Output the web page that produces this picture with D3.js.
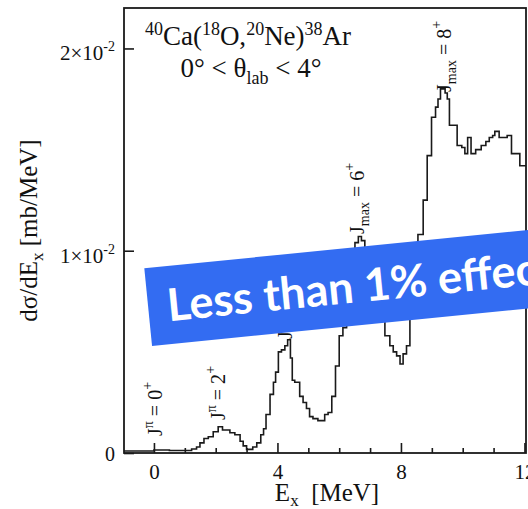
<!DOCTYPE html>
<html>
<head>
<meta charset="utf-8">
<script src="https://cdn.jsdelivr.net/npm/d3@7"></script>
<style>
  body { margin: 0; background: #fff; }
  svg { display: block; }
  text { font-family: "Liberation Serif", "Times New Roman", serif; fill: #111; }
  text.banner { font-family: Lato, "Open Sans", sans-serif; font-weight: bold; fill: #fff; }
</style>
</head>
<body>
<svg id="chart" width="528" height="509"></svg>
<script>
// bin edges [MeV] and d(sigma)/dEx [mb/MeV]
const binEdges = [
  -0.97, -0.5, 0.0, 0.5, 1.0, 1.22, 1.38, 1.49, 1.62, 1.76, 1.92, 2.08, 2.22,
  2.46, 2.62, 2.79, 2.89, 3.0, 3.2, 3.33, 3.46, 3.55, 3.63, 3.76, 3.87, 3.94,
  4.03, 4.13, 4.24, 4.33, 4.42, 4.48, 4.56, 4.72, 4.83, 4.94, 5.04, 5.15, 5.31,
  5.53, 5.64, 5.76, 5.88, 6.0, 6.12, 6.24, 6.34, 6.43, 6.51, 6.62, 6.72, 6.83,
  6.94, 7.05, 7.16, 7.27, 7.38, 7.48, 7.64, 7.75, 7.86, 7.97, 8.07, 8.18, 8.29,
  8.43, 8.55, 8.72, 8.85, 8.99, 9.12, 9.2, 9.28, 9.43, 9.5, 9.57, 9.82, 9.97,
  10.07, 10.16, 10.27, 10.42, 10.6, 10.75, 10.86, 10.97, 11.04, 11.18, 11.44,
  11.58, 11.85, 12.1
];
const dsig = [
  0.0001, 0.0001, 0.00015, 0.00012, 0.00012, 0.0002, 0.0003, 0.0005, 0.00072,
  0.0008, 0.00105, 0.0013, 0.00114, 0.001, 0.0009, 0.00058, 0.00035, 0.00018,
  0.0003, 0.0005, 0.0009, 0.0012, 0.0019, 0.0029, 0.0035, 0.004, 0.005, 0.0051,
  0.0053, 0.0056, 0.0047, 0.0036, 0.0035, 0.0028, 0.0025, 0.0022, 0.0018,
  0.0017, 0.0016, 0.0019, 0.002, 0.0028, 0.0043, 0.0058, 0.0062, 0.0078,
  0.0091, 0.0098, 0.0104, 0.0107, 0.0105, 0.0099, 0.0094, 0.0087, 0.008,
  0.0072, 0.0066, 0.0058, 0.0053, 0.005, 0.0048, 0.0044, 0.0049, 0.0053,
  0.0074, 0.0094, 0.0108, 0.0125, 0.0147, 0.0166, 0.0171, 0.0175, 0.018,
  0.0178, 0.0175, 0.0162, 0.0152, 0.0151, 0.0148, 0.0156, 0.0148, 0.015,
  0.0152, 0.0154, 0.0156, 0.0157, 0.0159, 0.0156, 0.0157, 0.0148, 0.0142
];

const xMajorTicks = [0, 4, 8, 12];
const xMinorTicks = [1, 2, 3, 5, 6, 7, 9, 10, 11];
const yTicks = [0, 0.01, 0.02];
const yTickMantissa = ["0", "1", "2"];

// state annotations: energy / height of the label foot, and the spin text
const stateE = [0.26, 2.3, 4.47, 6.8, 9.62];
const stateY = [0.00084, 0.00163, 0.00564, 0.01083, 0.01785];
const stateSub = ["", "", "max", "max", "max"];
const stateSup = ["\u03c0", "\u03c0", "", "", ""];
const stateSpin = ["0", "2", "4", "6", "8"];

const bannerText = "Less than 1% effect";

const width = 528;
const height = 509;
const margin = { top: 8, right: 2, bottom: 56, left: 124 };

const svg = d3.select("#chart");

const x = d3
  .scaleLinear()
  .domain([-0.97, 12.05])
  .range([margin.left, width - margin.right]);
const y = d3
  .scaleLinear()
  .domain([0, 0.022])
  .range([height - margin.bottom, margin.top]);

// append a run of text pieces, some raised or lowered
function richText(textSel, parts) {
  let shift = 0;
  parts.forEach((p) => {
    const s = p.shift || 0;
    textSel
      .append("tspan")
      .attr("dy", s - shift)
      .attr("font-size", p.size)
      .text(p.t);
    shift = s;
  });
}

svg
  .append("clipPath")
  .attr("id", "plot-clip")
  .append("rect")
  .attr("x", x.range()[0])
  .attr("y", y.range()[1])
  .attr("width", x.range()[1] - x.range()[0])
  .attr("height", y.range()[0] - y.range()[1]);

// histogram as a step line
const steps = [];
dsig.forEach((v, i) => {
  steps.push([binEdges[i], v]);
  steps.push([binEdges[i + 1], v]);
});

svg
  .append("path")
  .datum(steps)
  .attr("clip-path", "url(#plot-clip)")
  .attr("fill", "none")
  .attr("stroke", "#1a1a1a")
  .attr("stroke-width", 1.6)
  .attr("d", d3.line().x((d) => x(d[0])).y((d) => y(d[1])));

// axes, ticks pointing into the frame
const xAxisG = svg
  .append("g")
  .attr("transform", `translate(0, ${y(0)})`)
  .call(
    d3.axisBottom(x).tickValues(xMajorTicks).tickSize(-10).tickPadding(11).tickFormat(d3.format("d"))
  );
svg
  .append("g")
  .attr("transform", `translate(0, ${y(0)})`)
  .call(d3.axisBottom(x).tickValues(xMinorTicks).tickSize(-5).tickFormat(""));

svg
  .append("g")
  .attr("transform", `translate(${x.range()[0]}, 0)`)
  .call(d3.axisLeft(y).tickValues(yTicks).tickSize(-10).tickFormat(""));

svg.selectAll(".domain").remove();
svg.selectAll(".tick line").attr("stroke", "#1a1a1a").attr("stroke-width", 1.6);
xAxisG.selectAll(".tick text").attr("font-size", 21).style("fill", "#111");

yTicks.forEach((v, i) => {
  const t = svg
    .append("text")
    .attr("x", 115)
    .attr("y", y(v) + (v === 0 ? 8 : 12))
    .attr("text-anchor", "end")
    .attr("font-size", 20);
  if (v === 0) {
    t.text(yTickMantissa[i]);
  } else {
    richText(t, [
      { t: yTickMantissa[i] + "\u00d710", size: 21 },
      { t: "-2", size: 14, shift: -9 },
    ]);
  }
});

// frame
svg
  .append("rect")
  .attr("x", x.range()[0])
  .attr("y", y.range()[1])
  .attr("width", x.range()[1] - x.range()[0])
  .attr("height", y.range()[0] - y.range()[1])
  .attr("fill", "none")
  .attr("stroke", "#1a1a1a")
  .attr("stroke-width", 1.8);

// axis titles
const xTitle = svg
  .append("text")
  .attr("x", (x.range()[0] + x.range()[1]) / 2 + 2)
  .attr("y", 501)
  .attr("text-anchor", "middle");
richText(xTitle, [
  { t: "E", size: 25 },
  { t: "x", size: 17, shift: 5 },
  { t: "\u00a0\u00a0[MeV]", size: 25, shift: 0 },
]);

const yTitle = svg
  .append("text")
  .attr("transform", `translate(37, ${(y.range()[0] + y.range()[1]) / 2}) rotate(-90)`)
  .attr("text-anchor", "middle");
richText(yTitle, [
  { t: "d\u03c3/dE", size: 25 },
  { t: "x", size: 17, shift: 6 },
  { t: "\u00a0[mb/MeV]", size: 25, shift: 0 },
]);

// reaction title
const title1 = svg
  .append("text")
  .attr("x", 248)
  .attr("y", 45)
  .attr("text-anchor", "middle");
richText(title1, [
  { t: "40", size: 18, shift: -10 },
  { t: "Ca(", size: 27 },
  { t: "18", size: 18, shift: -10 },
  { t: "O,", size: 27 },
  { t: "20", size: 18, shift: -10 },
  { t: "Ne)", size: 27 },
  { t: "38", size: 18, shift: -10 },
  { t: "Ar", size: 27 },
]);
const title2 = svg
  .append("text")
  .attr("x", 251)
  .attr("y", 77)
  .attr("text-anchor", "middle");
richText(title2, [
  { t: "0\u00b0 < \u03b8", size: 27 },
  { t: "lab", size: 18, shift: 7 },
  { t: " < 4\u00b0", size: 27, shift: 0 },
]);

// spin labels, reading upwards
stateE.forEach((e, i) => {
  const t = svg
    .append("text")
    .attr("transform", `translate(${x(e)}, ${y(stateY[i])}) rotate(-90)`);
  const parts = [{ t: "J", size: 20 }];
  if (stateSup[i]) parts.push({ t: stateSup[i], size: 14, shift: -9 });
  if (stateSub[i]) parts.push({ t: stateSub[i], size: 14, shift: 5 });
  parts.push({ t: " = " + stateSpin[i], size: 20, shift: 0 });
  parts.push({ t: "+", size: 14, shift: -10 });
  richText(t, parts);
});

// overlay banner
const banner = svg
  .append("g")
  .attr("transform", "translate(144.3, 268.3) rotate(-5.7)");
banner
  .append("rect")
  .attr("width", 480)
  .attr("height", 78)
  .attr("fill", "#336cf2");
banner
  .append("text")
  .attr("class", "banner")
  .attr("x", 19)
  .attr("y", 55)
  .attr("font-size", 45)
  .text(bannerText);
</script>
</body>
</html>
